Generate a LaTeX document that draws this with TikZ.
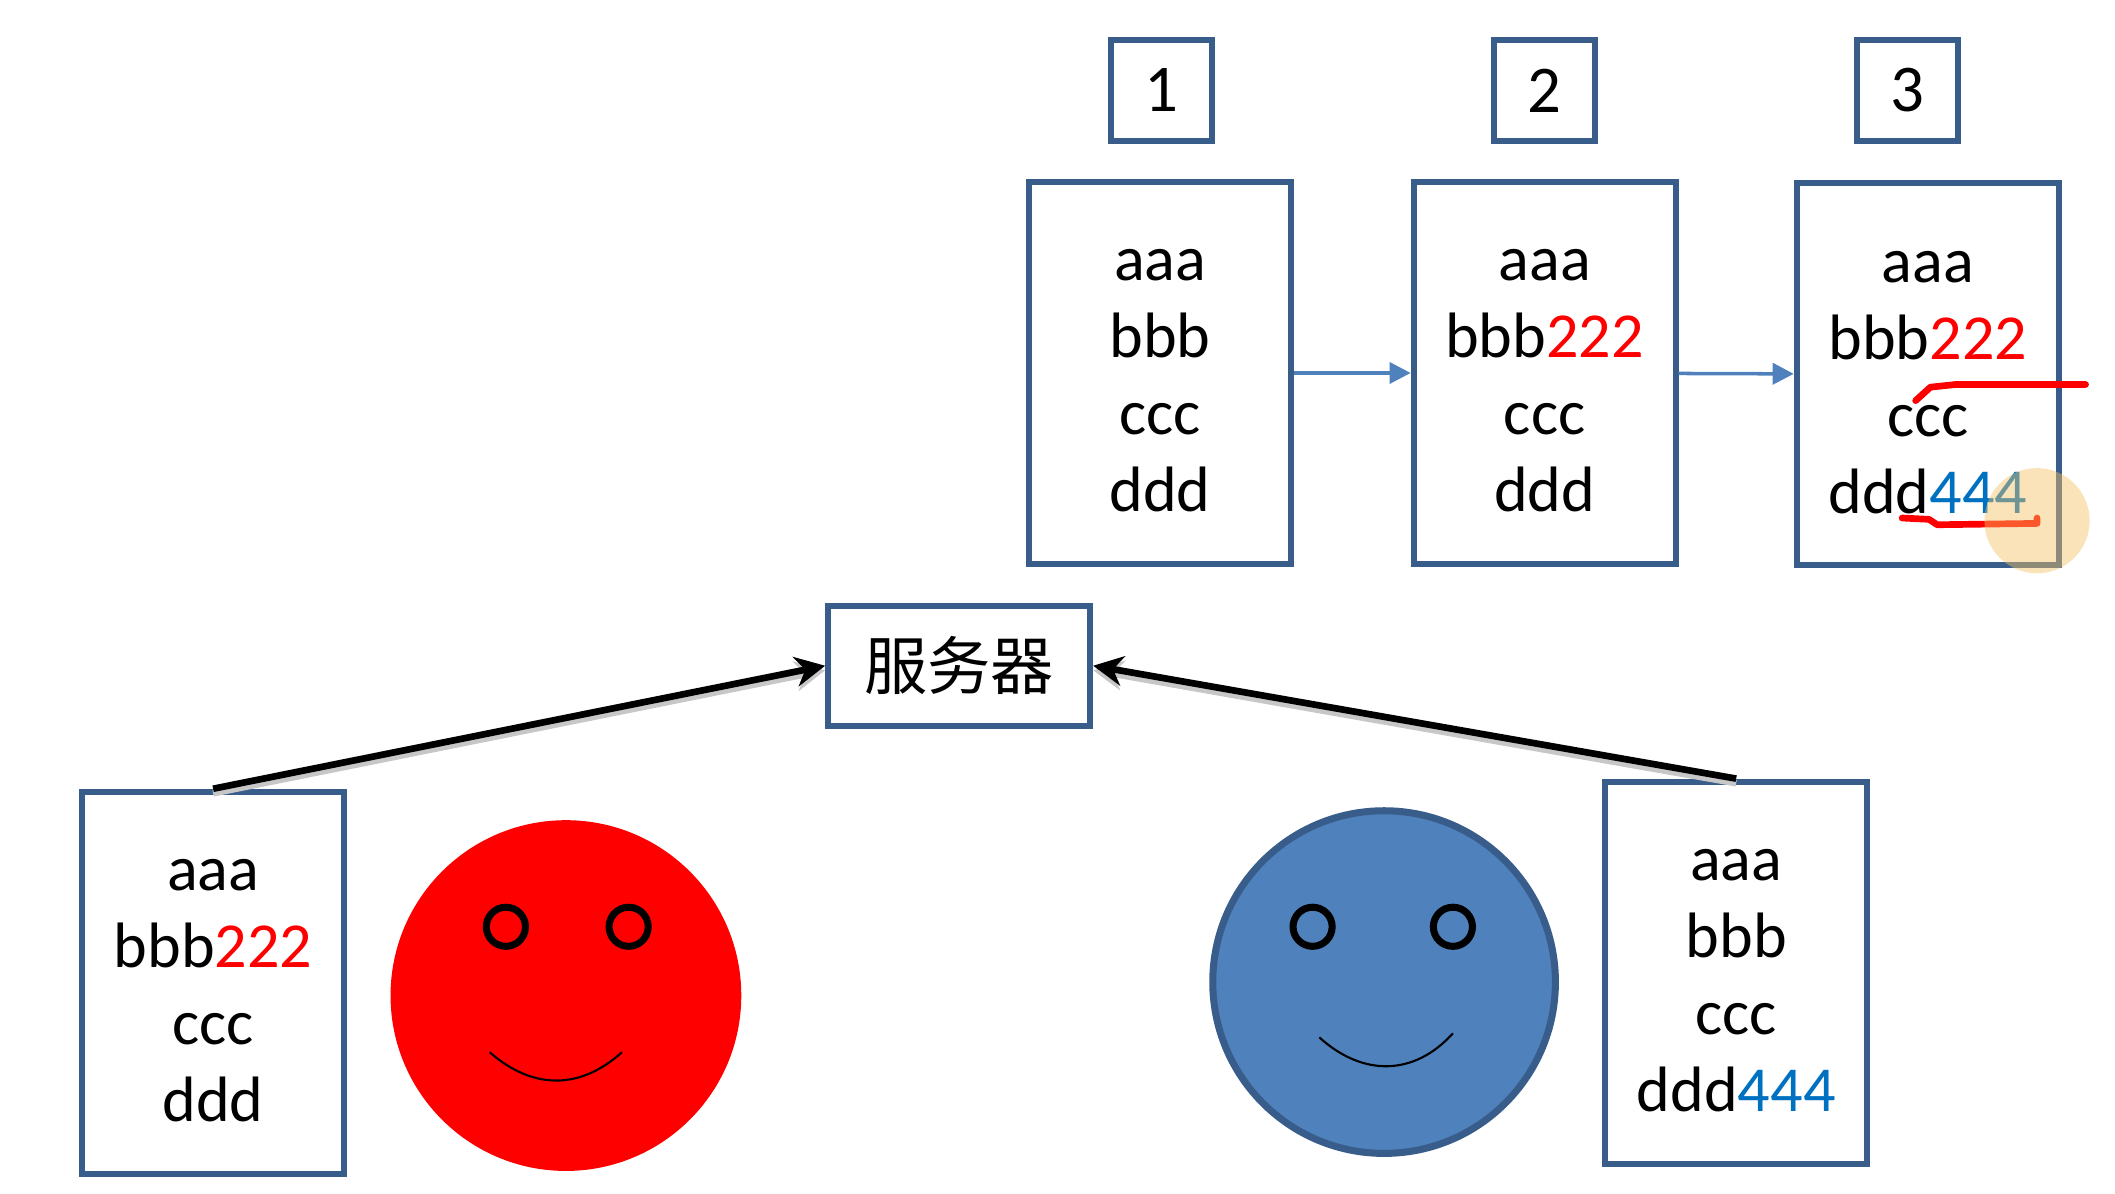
\documentclass[tikz,border=0pt]{standalone}
\usepackage{fontspec}
\setmainfont{Carlito}
\newfontfamily\cjkfont{Noto Sans CJK SC}
\usetikzlibrary{arrows.meta}
\definecolor{boxline}{HTML}{385D8A}
\definecolor{faceblue}{HTML}{4F81BD}
\definecolor{txtblue}{HTML}{0070C0}
\definecolor{penred}{HTML}{FF0000}
\definecolor{marker}{HTML}{F6C163}
\newcommand{\redtxt}[1]{\textcolor{penred}{#1}}
\newcommand{\bluetxt}[1]{\textcolor{txtblue}{#1}}
\newcommand{\firstline}{\rule{0pt}{13.4pt}aaa}
\tikzset{
    filebox/.style={draw=boxline,line width=1.7pt,fill=white,minimum width=2.62cm,minimum height=3.82cm,
        align=center,inner sep=0pt,font=\fontsize{18.25}{21.9}\selectfont},
    numbox/.style={draw=boxline,line width=1.8pt,minimum width=1.01cm,minimum height=1.01cm,
        inner sep=0pt,font=\fontsize{19}{23}\selectfont},
    serverbox/.style={draw=boxline,line width=1.7pt,minimum width=2.62cm,minimum height=1.2cm,
        inner sep=0pt,font=\cjkfont\fontsize{18}{22}\selectfont},
    bluearrow/.style={draw=faceblue,line width=1pt,-{Triangle[length=6pt,width=6pt]}},
    blackarrow/.style={line width=1.9pt,-{Stealth[length=8.5pt,width=8.5pt]},
        preaction={draw=black!22,line width=1.9pt,transform canvas={yshift=-1.3pt}}},
    eye/.style={draw=black,line width=2pt},
    smile/.style={draw=black,line width=0.6pt},
    scribble/.style={draw=penred,line width=1.9pt,line cap=round,line join=round},
}
\begin{document}
\begin{tikzpicture}[x=0.01349cm,y=-0.01349cm]
\useasboundingbox (0,0) rectangle (1567.8,884.4);

\node[numbox] (num1) at (861,67) {1};
\node[numbox] (num2) at (1145,67) {2};
\node[numbox] (num3) at (1414,67) {3};

\node[filebox] (file1) at (860,276.5) {\firstline\\bbb\\ccc\\ddd};
\node[filebox] (file2) at (1145,276.5) {\firstline\\bbb\redtxt{222}\\ccc\\ddd};
\node[filebox] (file3) at (1429,277.5) {\firstline\\bbb\redtxt{222}\\ccc\\ddd\bluetxt{444}};

\node[serverbox] (server) at (711,493.5) {服务器};

\node[filebox] (fileleft) at (158,728.5) {\firstline\\bbb\redtxt{222}\\ccc\\ddd};
\node[filebox] (fileright) at (1287,721) {\firstline\\bbb\\ccc\\ddd\bluetxt{444}};

\draw[bluearrow] (file1) -- (file2);
\draw[bluearrow] (file2) -- (file3);
\draw[blackarrow] (fileleft.north) -- (server.west);
\draw[blackarrow] (fileright.north) -- (server.east);

% red face
\fill[penred] (419.5,738) circle (130);
\foreach \ex in {375,466}
    \draw[eye] (\ex,687) circle (14.5);
\draw[smile] (363,780) .. controls (395,808) and (430,808) .. (461,780);

% blue face
\draw[fill=faceblue,draw=boxline,line width=2pt] (1026,728) circle (127);
\foreach \ex in {973,1077}
    \draw[eye] (\ex,687) circle (14.5);
\draw[smile] (978,769) .. controls (1010,798) and (1048,798) .. (1077,766);

% pen marks
\draw[scribble] (1420,297) -- (1431,287) -- (1450,285) -- (1546,285);
\draw[scribble] (1410,384) -- (1430,385) -- (1436,389) -- (1510,388) -- (1510,384);
\fill[marker,opacity=0.45] (1510,386) circle (39);
\end{tikzpicture}
\end{document}
